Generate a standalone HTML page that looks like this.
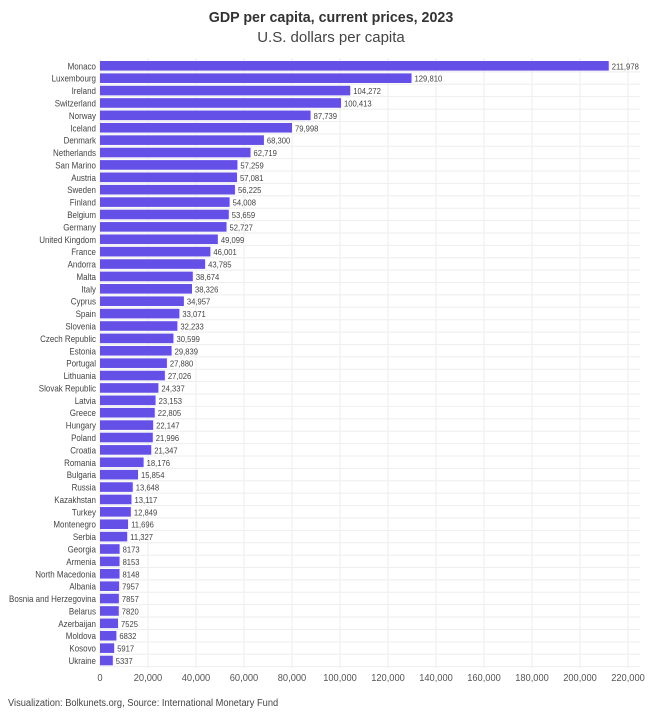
<!DOCTYPE html>
<html><head><meta charset="utf-8"><style>
body{margin:0;background:#fff;}
svg{display:block;font-family:"Liberation Sans",sans-serif;}
</style></head><body>
<svg width="662" height="716" xmlns="http://www.w3.org/2000/svg" id="c">
<text x="331" y="22" text-anchor="middle" font-size="15" font-weight="bold" fill="#333" data-f="0.95">GDP per capita, current prices, 2023</text>
<text x="331" y="42" text-anchor="middle" font-size="15" fill="#444">U.S. dollars per capita</text>
<g id="g"></g>
<text x="8" y="706" font-size="10" fill="#444" data-f="0.93">Visualization: Bolkunets.org, Source: International Monetary Fund</text>
</svg>
<script>
var d=[["Monaco",211978],["Luxembourg",129810],["Ireland",104272],["Switzerland",100413],["Norway",87739],["Iceland",79998],["Denmark",68300],["Netherlands",62719],["San Marino",57259],["Austria",57081],["Sweden",56225],["Finland",54008],["Belgium",53659],["Germany",52727],["United Kingdom",49099],["France",46001],["Andorra",43785],["Malta",38674],["Italy",38326],["Cyprus",34957],["Spain",33071],["Slovenia",32233],["Czech Republic",30599],["Estonia",29839],["Portugal",27880],["Lithuania",27026],["Slovak Republic",24337],["Latvia",23153],["Greece",22805],["Hungary",22147],["Poland",21996],["Croatia",21347],["Romania",18176],["Bulgaria",15854],["Russia",13648],["Kazakhstan",13117],["Turkey",12849],["Montenegro",11696],["Serbia",11327],["Georgia",8173],["Armenia",8153],["North Macedonia",8148],["Albania",7957],["Bosnia and Herzegovina",7857],["Belarus",7820],["Azerbaijan",7525],["Moldova",6832],["Kosovo",5917],["Ukraine",5337]];
var s="",x0=100,k=528/220000,p=12.39;
for(var i=0;i<=11;i++){var x=x0+i*20000*k;s+='<line x1="'+x+'" y1="58" x2="'+x+'" y2="668" stroke="#eee"/>';s+='<text data-f="0.93" x="'+x+'" y="681" text-anchor="middle" font-size="10" fill="#555">'+(i==0?"0":(i*20000).toLocaleString("en-US"))+'</text>';}
d.forEach(function(r,i){var y=61+i*p;var w=r[1]*k;
s+='<line x1="'+x0+'" y1="'+(y+10.9)+'" x2="640" y2="'+(y+10.9)+'" stroke="#eee"/>';
s+='<rect x="'+x0+'" y="'+y+'" width="'+w+'" height="9.6" fill="#6450e6"/>';
s+='<text data-f="0.84" x="96" y="'+(y+8.3)+'" text-anchor="end" font-size="9.5" fill="#444">'+r[0]+'</text>';
s+='<text data-f="0.9" x="'+(x0+w+3)+'" y="'+(y+8.3)+'" font-size="8.5" fill="#444">'+(r[1]>=10000?r[1].toLocaleString("en-US"):r[1])+'</text>';});
document.getElementById("g").innerHTML=s;
document.querySelectorAll("[data-f]").forEach(function(t){var l=t.getComputedTextLength();t.setAttribute("textLength",(l*parseFloat(t.getAttribute("data-f"))).toFixed(1));t.setAttribute("lengthAdjust","spacingAndGlyphs");});
</script>
</body></html>
